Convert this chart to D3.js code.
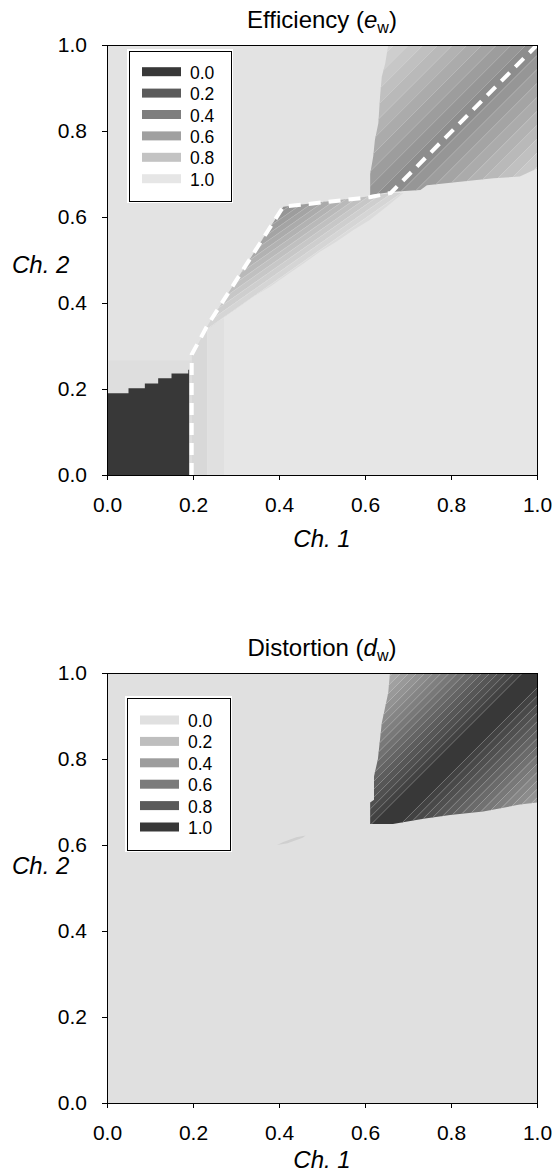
<!DOCTYPE html>
<html>
<head>
<meta charset="utf-8">
<script src="https://cdnjs.cloudflare.com/ajax/libs/d3/7.8.5/d3.min.js"></script>
<style>
  body { margin: 0; background: #fff; }
  svg { display: block; font-family: "Liberation Sans", Arial, sans-serif; }
</style>
</head>
<body>
<svg id="chart" width="552" height="1175"></svg>
<script>
// shared ticks / legend levels
const tickValues = [0.0, 0.2, 0.4, 0.6, 0.8, 1.0];
const legendLevels = [0.0, 0.2, 0.4, 0.6, 0.8, 1.0];
const contourStep = 0.04;

// ---- efficiency (e_w), values, in [Ch.1, Ch.2] units ----
const effBase = 1.0;
const effUpperLeft = [[0, 1], [0, 0.267], [0.197, 0.267], [0.197, 0.28], [0.232, 0.345],
  [0.41, 0.624], [0.611, 0.648], [0.66, 0.656], [0.70, 1]];
const effUpperLeftValue = 0.985;
const effCornerBand = [[0, 0], [0.197, 0], [0.197, 0.267], [0, 0.267]];
const effCornerBandValue = 0.955;
const effDark = [[0, 0], [0.191, 0], [0.191, 0.245], [0.189, 0.245], [0.189, 0.236], [0.150, 0.236],
  [0.150, 0.225], [0.119, 0.225], [0.119, 0.213], [0.088, 0.213], [0.088, 0.202], [0.050, 0.202],
  [0.050, 0.190], [0, 0.190]];
const effDarkValue = 0.0;
const effStripA = [[0.197, 0], [0.233, 0], [0.233, 0.342], [0.197, 0.28]];
const effStripB = [[0.233, 0], [0.272, 0], [0.272, 0.365], [0.233, 0.342]];
const effStripValues = [0.92, 0.965];
const effMidRegion = [[0.232, 0.345], [0.41, 0.624], [0.611, 0.648], [0.66, 0.656], [0.689, 0.656],
  [0.65, 0.624], [0.611, 0.593], [0.573, 0.570], [0.534, 0.543], [0.495, 0.519], [0.457, 0.492],
  [0.418, 0.465], [0.379, 0.438], [0.340, 0.415], [0.302, 0.388], [0.263, 0.361], [0.232, 0.337]];
const effMidDir = [1, 0.7];
const effMidW = [-0.34, -0.165];
const effMidV = [0.49, 0.95];
const effTopRegion = [[0.612, 0.651], [0.612, 0.700], [0.619, 0.740], [0.623, 0.779], [0.631, 0.818],
  [0.635, 0.880], [0.639, 0.926], [0.647, 0.957], [0.654, 1.0], [1.0, 1.0], [1.0, 0.713],
  [0.96, 0.694], [0.899, 0.690], [0.821, 0.682], [0.744, 0.674], [0.729, 0.663], [0.665, 0.659]];
const effTopDir = [1, 1];
const effTopW = [-0.35, 0, 0.30];
const effTopV = [0.90, 0.49, 0.86];
const effFrontier = [[0.197, 0], [0.197, 0.28], [0.232, 0.345], [0.41, 0.624], [0.611, 0.646],
  [0.66, 0.656], [1, 1]];

// ---- distortion (d_w) ----
const distBase = 0.0;
const distTopRegion = [[0.612, 0.649], [0.612, 0.699], [0.621, 0.705], [0.621, 0.760], [0.630, 0.800],
  [0.639, 0.884], [0.654, 0.954], [0.658, 1.0], [1.0, 1.0], [1.0, 0.699], [0.96, 0.694],
  [0.875, 0.678], [0.798, 0.670], [0.736, 0.661], [0.665, 0.649]];
const distTopDir = [1, 1];
const distTopW = [-0.345, -0.015, 0.015, 0.30];
const distTopV = [0.30, 1.0, 1.0, 0.42];
const distSliver = [[0.395, 0.600], [0.42, 0.604], [0.455, 0.617], [0.462, 0.622], [0.44, 0.618], [0.41, 0.607]];
const distSliverValue = 0.1;

const left = 107;
const plotSize = 430;
const panelTops = [45, 673];

const svg = d3.select('#chart');
const x = d3.scaleLinear().domain([0, 1]).range([0, plotSize]);
const y = d3.scaleLinear().domain([0, 1]).range([plotSize, 0]);
const line = d3.line().x(d => x(d[0])).y(d => y(d[1]));
const area = pts => line(pts) + 'Z';

const effColor = d3.scaleLinear().domain([0, 1]).range(['#383838', '#e6e6e6']);
const distColor = d3.scaleLinear().domain([0, 1]).range(['#e0e0e0', '#383838']);

// filled contour bands of a profile that varies across one direction
function drawBanded (g, id, region, dir, ws, vs, color, lineOpacity) {
  g.append('clipPath').attr('id', id).append('path').attr('d', area(region));
  const layer = g.append('g').attr('clip-path', 'url(#' + id + ')');
  const n = [dir[1], -dir[0]];
  const nn = n[0] * n[0] + n[1] * n[1];
  const dl = Math.hypot(dir[0], dir[1]);
  const u = [dir[0] / dl, dir[1] / dl];
  const onLine = (w, s) => [n[0] * w / nn + u[0] * s, n[1] * w / nn + u[1] * s];

  const cuts = [];
  for (let i = 0; i < ws.length - 1; i++) {
    const lo = Math.min(vs[i], vs[i + 1]);
    const hi = Math.max(vs[i], vs[i + 1]);
    if (hi - lo < 1e-9) continue;
    const seg = d3.scaleLinear().domain([vs[i], vs[i + 1]]).range([ws[i], ws[i + 1]]);
    d3.range(Math.ceil(lo / contourStep - 1e-6) * contourStep, hi, contourStep)
      .filter(t => t > lo + 1e-6 && t < hi - 1e-6)
      .forEach(t => cuts.push(seg(t)));
  }
  cuts.sort(d3.ascending);
  const w0 = ws[0];
  const w1 = ws[ws.length - 1];
  const profile = d3.scaleLinear().domain(ws).range(vs).clamp(true);
  const bands = d3.pairs([w0 - 0.5].concat(cuts, [w1 + 0.5])).map(function (p) {
    return { a: p[0], b: p[1], v: profile((Math.max(p[0], w0) + Math.min(p[1], w1)) / 2) };
  });

  layer.selectAll('path.band')
    .data(bands)
    .join('path')
    .attr('class', 'band')
    .attr('d', d => area([onLine(d.a, -3), onLine(d.a, 3), onLine(d.b, 3), onLine(d.b, -3)]))
    .attr('fill', d => color(d.v))
    .attr('stroke', d => color(d.v))
    .attr('stroke-width', 0.5);

  layer.selectAll('path.cut')
    .data(cuts)
    .join('path')
    .attr('class', 'cut')
    .attr('d', w => line([onLine(w, -3), onLine(w, 3)]))
    .attr('fill', 'none')
    .attr('stroke', '#fff')
    .attr('stroke-opacity', lineOpacity)
    .attr('stroke-width', 0.6);
}

function drawLegend (g, box, color) {
  const lg = g.append('g').attr('transform', 'translate(' + box.x + ',' + box.y + ')');
  lg.append('rect')
    .attr('x', -2).attr('y', -2)
    .attr('width', box.w + 4).attr('height', box.h + 4)
    .attr('fill', '#fff');
  lg.append('rect')
    .attr('width', box.w).attr('height', box.h)
    .attr('fill', '#fff')
    .attr('stroke', '#000')
    .attr('stroke-width', 1)
    .attr('shape-rendering', 'crispEdges');
  const row = lg.selectAll('g.row')
    .data(legendLevels)
    .join('g')
    .attr('class', 'row')
    .attr('transform', (d, i) => 'translate(0,' + (box.row0 + i * 21.4) + ')');
  row.append('rect')
    .attr('x', 13).attr('y', -4.5)
    .attr('width', 39).attr('height', 9)
    .attr('fill', d => color(d));
  row.append('text')
    .attr('x', 61).attr('y', 7)
    .attr('font-size', 17.5)
    .text(d => d3.format('.1f')(d));
}

function drawAxes (g, labelY1, labelY2) {
  g.append('rect')
    .attr('width', plotSize).attr('height', plotSize)
    .attr('fill', 'none')
    .attr('stroke', '#000')
    .attr('stroke-width', 1)
    .attr('shape-rendering', 'crispEdges');

  g.append('g')
    .attr('transform', 'translate(0,' + plotSize + ')')
    .call(d3.axisBottom(x).tickValues(tickValues).tickFormat(d3.format('.1f')).tickSize(5).tickPadding(17))
    .attr('font-size', 21)
    .attr('font-family', null)
    .call(a => a.select('.domain').remove());

  g.append('g')
    .call(d3.axisLeft(y).tickValues(tickValues).tickFormat(d3.format('.1f')).tickSize(5).tickPadding(15))
    .attr('font-size', 21)
    .attr('font-family', null)
    .call(a => a.select('.domain').remove());

  g.append('text')
    .attr('x', plotSize / 2)
    .attr('y', labelY1)
    .attr('text-anchor', 'middle')
    .attr('font-size', 24)
    .attr('font-style', 'italic')
    .text('Ch. 1');

  g.append('text')
    .attr('x', 12 - left)
    .attr('y', labelY2)
    .attr('font-size', 24)
    .attr('font-style', 'italic')
    .text('Ch. 2');
}

function drawTitle (g, name, sym) {
  const t = g.append('text')
    .attr('x', plotSize / 2)
    .attr('y', -17)
    .attr('text-anchor', 'middle')
    .attr('font-size', 24);
  t.append('tspan').text(name + ' (');
  t.append('tspan').attr('font-style', 'italic').text(sym);
  t.append('tspan').attr('font-size', 16).attr('dy', 5).text('w');
  t.append('tspan').attr('dy', -5).text(')');
}

// ---- panel 1: efficiency ----
const ge = svg.append('g').attr('transform', 'translate(' + left + ',' + panelTops[0] + ')');
ge.append('rect').attr('width', plotSize).attr('height', plotSize).attr('fill', effColor(effBase));
ge.append('path').attr('d', area(effUpperLeft)).attr('fill', effColor(effUpperLeftValue));
ge.append('path').attr('d', area(effCornerBand)).attr('fill', effColor(effCornerBandValue));
ge.append('path').attr('d', area(effDark)).attr('fill', effColor(effDarkValue));
ge.selectAll('path.strip')
  .data([effStripA, effStripB])
  .join('path')
  .attr('class', 'strip')
  .attr('d', d => area(d))
  .attr('fill', (d, i) => effColor(effStripValues[i]));
drawBanded(ge, 'eff-mid', effMidRegion, effMidDir, effMidW, effMidV, effColor, 0.3);
drawBanded(ge, 'eff-top', effTopRegion, effTopDir, effTopW, effTopV, effColor, 0.3);
ge.append('path')
  .attr('d', line(effFrontier))
  .attr('fill', 'none')
  .attr('stroke', '#fff')
  .attr('stroke-width', 4)
  .attr('stroke-dasharray', '12,8');
drawLegend(ge, { x: 22, y: 6, w: 102, h: 150, row0: 20.7 }, effColor);
drawAxes(ge, plotSize + 72, 273 - panelTops[0]);
drawTitle(ge, 'Efficiency', 'e');

// ---- panel 2: distortion ----
const gd = svg.append('g').attr('transform', 'translate(' + left + ',' + panelTops[1] + ')');
gd.append('rect').attr('width', plotSize).attr('height', plotSize).attr('fill', distColor(distBase));
gd.append('path').attr('d', area(distSliver)).attr('fill', distColor(distSliverValue));
drawBanded(gd, 'dist-top', distTopRegion, distTopDir, distTopW, distTopV, distColor, 0.4);
drawLegend(gd, { x: 20, y: 25, w: 103, h: 152, row0: 22 }, distColor);
drawAxes(gd, 1168 - panelTops[1], 874 - panelTops[1]);
drawTitle(gd, 'Distortion', 'd');
</script>
</body>
</html>
